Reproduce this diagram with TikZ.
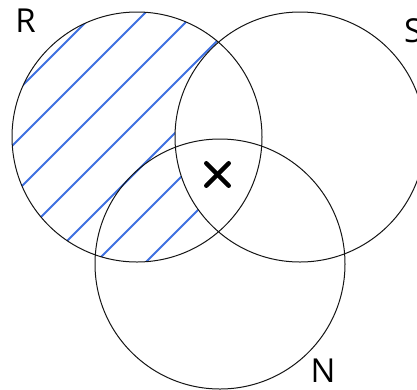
\documentclass[tikz,border=0pt]{standalone}
\usepackage{fontspec}
\setmainfont{Open Sans}
\usepackage{tikz}
\usetikzlibrary{positioning}
\definecolor{hatchblue}{RGB}{62, 112, 224}
\definecolor{setline}{RGB}{20, 20, 20}

\begin{document}
\begin{tikzpicture}[x=1pt, y=-1pt,
    setcirc/.style={draw=setline, line width=1pt, circle, minimum size=250pt, inner sep=0pt},
    hatch/.style={hatchblue, line width=2pt},
    setname/.style={inner sep=0pt, font=\fontsize{33}{36}\selectfont},
    cross/.style={line width=4.5pt, line cap=round}]

  \useasboundingbox (0,0) rectangle (417,389);

  % --- centres of the three sets ---
  \coordinate (cR) at (137,137);
  \coordinate (cS) at (300,137);
  \coordinate (cN) at (220,264);

  % --- hatching: R outside S ---
  \begin{scope}
    \clip (cR) circle (125);
    \foreach \s in {108,158,...,408}
      \draw[hatch] (-60,\s+60) -- (\s+60,-60);
    \fill[white] (cS) circle (125);
  \end{scope}

  % --- the three sets ---
  \node[setcirc] (R) at (cR) {};
  \node[setcirc] (S) at (cS) {};
  \node[setcirc] (N) at (cN) {};

  % --- set names ---
  \node[setname] (lR) at (25.5,20.5) {R};
  \node[setname, anchor=west] (lS) at (404,30.5) {S};
  \node[setname] (lN) at (323,370.5) {N};

  % --- mark in R, S and N ---
  \node[minimum size=22pt, inner sep=0pt] (mark) at (217.5,174.5) {};
  \draw[cross] (mark.north west) -- (mark.south east);
  \draw[cross] (mark.north east) -- (mark.south west);

\end{tikzpicture}
\end{document}
